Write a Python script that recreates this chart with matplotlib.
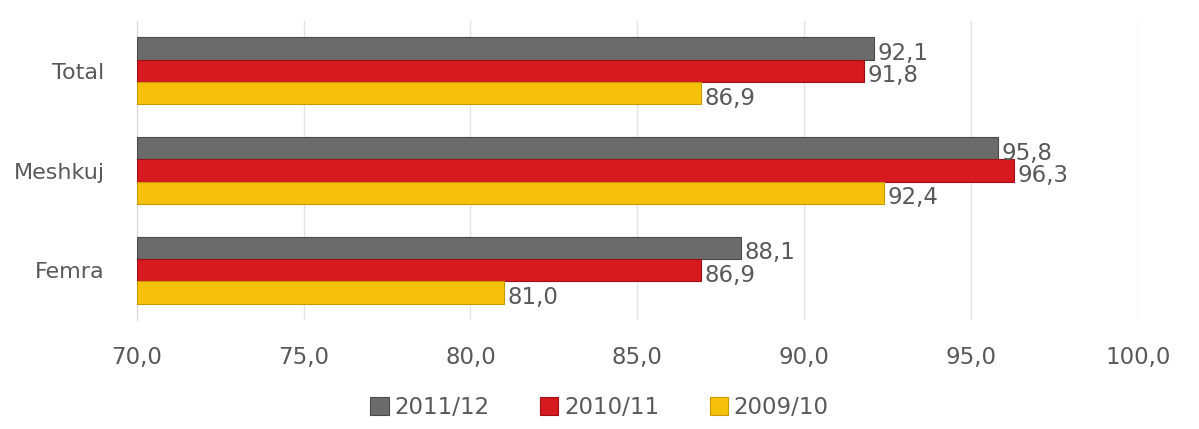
import matplotlib
matplotlib.use("Agg")
import matplotlib.pyplot as plt
import numpy as np

categories = ["Total", "Meshkuj", "Femra"]
series_names = ["2011/12", "2010/11", "2009/10"]
v_2011 = [92.1, 95.8, 88.1]
v_2010 = [91.8, 96.3, 86.9]
v_2009 = [86.9, 92.4, 81.0]
xticks = [70, 75, 80, 85, 90, 95, 100]

colors = ["#6b6b6b", "#d71920", "#f5c10a"]
edges = ["#4a4a4a", "#9e1016", "#c99a00"]
text_color = "#595959"

fig = plt.figure(figsize=(11.99, 4.29), dpi=100)
ax = fig.add_axes([0.114, 0.254, 0.835, 0.697])

ypos = np.arange(len(categories))[::-1]  # Total on top
h = 0.225
offsets = [h, 0, -h]
series = [v_2011, v_2010, v_2009]
for vals, off, c, ec, name in zip(series, offsets, colors, edges, series_names):
    ax.barh(ypos + off, [v - 70 for v in vals], left=70, height=h,
            color=c, edgecolor=ec, linewidth=0.8, label=name, zorder=3)
    for y, v in zip(ypos + off, vals):
        ax.text(v + 0.1, y - 0.05, f"{v:.1f}".replace(".", ","), va="center", ha="left",
                fontsize=16.5, color=text_color, zorder=4)

ax.set_xlim(70, 100)
ax.set_ylim(-0.5, 2.5)
ax.set_xticks(xticks)
ax.set_xticklabels([f"{t:.1f}".replace(".", ",") for t in xticks], fontsize=16.5, color=text_color)
ax.set_yticks(ypos)
ax.set_yticklabels(categories, fontsize=16, color=text_color)
ax.tick_params(axis="x", length=0, pad=19)
ax.tick_params(axis="y", length=0, pad=23)
ax.grid(axis="x", color="#e3e3e3", linewidth=1, zorder=0)
for s in ["top", "right", "bottom"]:
    ax.spines[s].set_visible(False)
ax.spines["left"].set_color("#d9d9d9")

fig.legend(loc="lower center", bbox_to_anchor=(0.5, -0.025), ncol=3, frameon=False,
           fontsize=16.5, handlelength=0.8, handleheight=0.8, handletextpad=0.25,
           columnspacing=2.2, labelcolor=text_color)

fig.savefig("out.png", dpi=100)
